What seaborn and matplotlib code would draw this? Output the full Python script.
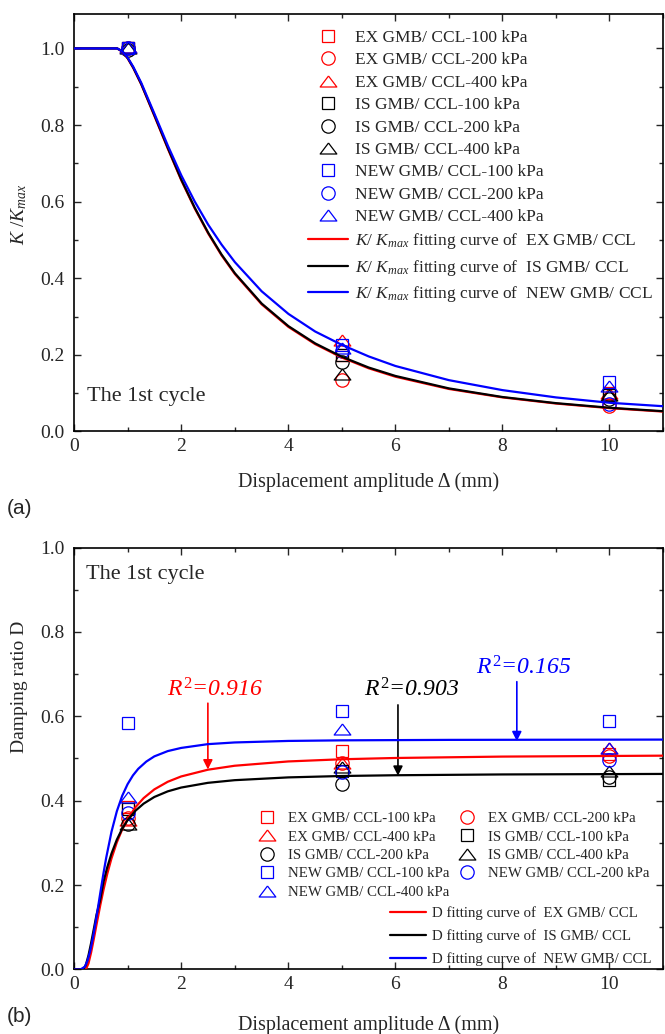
import numpy as np
import pandas as pd
import matplotlib
matplotlib.use("Agg")
import matplotlib.pyplot as plt
import seaborn as sns
from matplotlib.lines import Line2D
from matplotlib.ticker import MultipleLocator, FormatStrFormatter

sns.set_style("ticks")
plt.rcParams["font.family"] = ["Liberation Serif", "DejaVu Serif"]
plt.rcParams["mathtext.fontset"] = "custom"
plt.rcParams["mathtext.rm"] = "Liberation Serif"
plt.rcParams["mathtext.it"] = "Liberation Serif:italic"
plt.rcParams["mathtext.bf"] = "Liberation Serif:bold"

# ---------------- data ----------------
disp = [1, 5, 10]
series_names = ["EX GMB/ CCL-100 kPa", "EX GMB/ CCL-200 kPa", "EX GMB/ CCL-400 kPa",
                "IS GMB/ CCL-100 kPa", "IS GMB/ CCL-200 kPa", "IS GMB/ CCL-400 kPa",
                "NEW GMB/ CCL-100 kPa", "NEW GMB/ CCL-200 kPa", "NEW GMB/ CCL-400 kPa"]

# (a) K/Kmax
k_ex_100 = [1.000, 0.200, 0.100]
k_ex_200 = [1.000, 0.135, 0.067]
k_ex_400 = [1.005, 0.240, 0.100]
k_is_100 = [1.000, 0.200, 0.095]
k_is_200 = [0.995, 0.182, 0.085]
k_is_400 = [1.000, 0.150, 0.095]
k_new_100 = [1.000, 0.226, 0.128]
k_new_200 = [1.000, 0.210, 0.072]
k_new_400 = [1.005, 0.218, 0.120]

k_fit_x = [0, 0.5, 0.8, 0.9, 1.0, 1.1, 1.25, 1.5, 1.75, 2.0, 2.25, 2.5, 2.75, 3.0,
           3.5, 4.0, 4.5, 5.0, 5.5, 6.0, 7.0, 8.0, 9.0, 10.0, 11.0]
k_fit_ex = [1, 1, 1, 0.991, 0.973, 0.949, 0.906, 0.822, 0.737, 0.655, 0.582, 0.517,
            0.460, 0.411, 0.332, 0.273, 0.228, 0.193, 0.165, 0.143, 0.111, 0.089,
            0.073, 0.061, 0.052]
k_fit_is = [1, 1, 1, 0.992, 0.974, 0.950, 0.907, 0.824, 0.739, 0.657, 0.584, 0.519,
            0.462, 0.413, 0.334, 0.275, 0.230, 0.195, 0.167, 0.145, 0.1125, 0.090,
            0.074, 0.062, 0.053]
k_fit_new = [1, 1, 1, 0.992, 0.975, 0.952, 0.910, 0.828, 0.745, 0.668, 0.600, 0.540,
             0.488, 0.442, 0.366, 0.307, 0.261, 0.226, 0.196, 0.171, 0.134, 0.108,
             0.089, 0.075, 0.066]

# (b) damping ratio D
d_ex_100 = [0.385, 0.518, 0.510]
d_ex_200 = [0.360, 0.490, 0.505]
d_ex_400 = [0.355, 0.490, 0.525]
d_is_100 = [0.380, 0.470, 0.450]
d_is_200 = [0.345, 0.439, 0.455]
d_is_400 = [0.345, 0.480, 0.470]
d_new_100 = [0.583, 0.613, 0.588]
d_new_200 = [0.370, 0.467, 0.497]
d_new_400 = [0.409, 0.571, 0.525]

d_fit_ex_x = [0, 0.22, 0.27, 0.32, 0.37, 0.42, 0.49, 0.55, 0.62, 0.7, 0.8, 0.9, 1.0,
              1.15, 1.3, 1.5, 1.75, 2.0, 2.5, 3.0, 4.0, 5.0, 6.0, 8.0, 11.0]
d_fit_ex = [0, 0, 0.0142, 0.0407, 0.0726, 0.1062, 0.1521, 0.1885, 0.2262, 0.2633,
            0.3014, 0.3319, 0.3564, 0.3849, 0.4061, 0.4268, 0.4448, 0.4574, 0.4734,
            0.4828, 0.4930, 0.4982, 0.5012, 0.5045, 0.5067]
d_fit_is_x = [0, 0.17, 0.22, 0.27, 0.32, 0.37, 0.42, 0.49, 0.55, 0.62, 0.7, 0.8, 0.9,
              1.0, 1.15, 1.3, 1.5, 1.75, 2.0, 2.5, 3.0, 4.0, 5.0, 6.0, 8.0, 11.0]
d_fit_is = [0, 0, 0.0104, 0.0333, 0.0632, 0.0961, 0.1294, 0.166, 0.2073, 0.2418,
            0.2747, 0.3077, 0.3334, 0.3536, 0.3765, 0.3930, 0.4088, 0.4221, 0.4311,
            0.4423, 0.4486, 0.4552, 0.4585, 0.4603, 0.4622, 0.4634]
d_fit_new_x = [0, 0.12, 0.2, 0.25, 0.3, 0.35, 0.4, 0.45, 0.5, 0.55, 0.6, 0.7, 0.8,
               0.9, 1.0, 1.1, 1.2, 1.35, 1.5, 1.75, 2.0, 2.5, 3.0, 4.0, 5.0, 7.0, 11.0]
d_fit_new = [0, 0, 0.0063, 0.0201, 0.0427, 0.0731, 0.1093, 0.1487, 0.1888, 0.2277,
             0.2640, 0.3264, 0.3750, 0.4116, 0.4390, 0.4598, 0.4756, 0.4927, 0.5050,
             0.5175, 0.5250, 0.5340, 0.5380, 0.5416, 0.5430, 0.5441, 0.5448]

r2_labels = ["0.916", "0.903", "0.165"]

# ---------------- style ----------------
RED, BLACK, BLUE = "#ff0000", "#000000", "#0000ff"
colors = [RED, RED, RED, BLACK, BLACK, BLACK, BLUE, BLUE, BLUE]
tri = [(0, 0.66), (-1, -0.66), (1, -0.66), (0, 0.66)]
markers = ["s", "o", tri] * 3
msizes = [8.4, 9.6, 12.0] * 3
MEW = 0.9

fig = plt.figure(figsize=(6.65, 10.34), dpi=100)
ax1 = fig.add_axes([0.1119, 0.5827, 0.885, 0.4038])
ax2 = fig.add_axes([0.1113, 0.0624, 0.8857, 0.4081])

k_sets = [k_ex_100, k_ex_200, k_ex_400, k_is_100, k_is_200, k_is_400,
          k_new_100, k_new_200, k_new_400]
d_sets = [d_ex_100, d_ex_200, d_ex_400, d_is_100, d_is_200, d_is_400,
          d_new_100, d_new_200, d_new_400]


def draw_points(ax, sets):
    for vals, c, m, ms in zip(sets, colors, markers, msizes):
        df = pd.DataFrame({"x": disp, "y": vals})
        sns.lineplot(data=df, x="x", y="y", ax=ax, color=c, linestyle="",
                     marker=m, markersize=ms, markerfacecolor="none",
                     markeredgecolor=c, markeredgewidth=MEW, legend=False,
                     errorbar=None, zorder=3)


def draw_curve(ax, xs, ys, c):
    df = pd.DataFrame({"x": xs, "y": ys})
    sns.lineplot(data=df, x="x", y="y", ax=ax, color=c, lw=1.6, legend=False,
                 errorbar=None, zorder=4)


draw_points(ax1, k_sets)
draw_curve(ax1, k_fit_x, k_fit_ex, RED)
draw_curve(ax1, k_fit_x, k_fit_is, BLACK)
draw_curve(ax1, k_fit_x, k_fit_new, BLUE)

draw_points(ax2, d_sets)
draw_curve(ax2, d_fit_ex_x, d_fit_ex, RED)
draw_curve(ax2, d_fit_is_x, d_fit_is, BLACK)
draw_curve(ax2, d_fit_new_x, d_fit_new, BLUE)

for ax in (ax1, ax2):
    ax.set_xlim(0, 11)
    ax.xaxis.set_major_locator(MultipleLocator(2))
    ax.xaxis.set_minor_locator(MultipleLocator(1))
    ax.yaxis.set_major_locator(MultipleLocator(0.2))
    ax.yaxis.set_minor_locator(MultipleLocator(0.1))
    ax.yaxis.set_major_formatter(FormatStrFormatter("%.1f"))
    ax.tick_params(which="both", direction="in", top=True, right=True,
                   labelsize=14, width=1.0)
    ax.tick_params(axis="x", which="both", pad=5)
    ax.tick_params(axis="y", which="both", pad=7)
    ax.tick_params(which="major", length=5)
    ax.tick_params(which="minor", length=3)
    for sp in ax.spines.values():
        sp.set_linewidth(1.2)
        sp.set_color("black")

ax1.set_xlabel("Displacement amplitude \u0394 (mm)", fontsize=14.5, labelpad=12)
ax2.set_xlabel("Displacement amplitude \u0394 (mm)", fontsize=14.5, labelpad=15.5)
ax1.set_ylim(0, 1.09)
ax2.set_ylim(0, 1.0)
ax1.set_ylabel(r"$K$ /$K_{max}$", fontsize=14)
ax2.set_ylabel("Damping ratio D", fontsize=14)
ax1.yaxis.set_label_coords(-0.078, 0.52)
ax2.yaxis.set_label_coords(-0.078, 0.67)

ax1.text(0.23, 0.091, "The 1st cycle", fontsize=16, va="center", ha="left")
ax2.text(0.23, 0.935, "The 1st cycle", fontsize=16, va="center", ha="left")

fig.text(19 / 665, 1 - 508 / 1034, "(a)", fontsize=15, family="Liberation Sans",
         ha="center", va="center")
fig.text(19 / 665, 1 - 1017 / 1034, "(b)", fontsize=15, family="Liberation Sans",
         ha="center", va="center")

# legends
def pt_handle(i):
    return Line2D([], [], ls="", marker=markers[i], ms=msizes[i], mfc="none",
                  mec=colors[i], mew=MEW, label=series_names[i])

h1 = [pt_handle(i) for i in range(9)]
fit_groups = ["EX GMB/ CCL", "IS GMB/ CCL", "NEW GMB/ CCL"]
line_cols = [RED, BLACK, BLUE]
h1 += [Line2D([], [], color=c, lw=1.6,
              label=r"$K$/ $K_{max}$ fitting curve of  " + g)
       for c, g in zip(line_cols, fit_groups)]
ax1.legend(handles=h1, loc="upper left", bbox_to_anchor=(0.397, 0.962),
           frameon=False, fontsize=12.5, handlelength=2.3, handletextpad=0.4,
           labelspacing=0.36, borderpad=0, borderaxespad=0)

order = [0, 2, 4, 6, 8, 1, 3, 5, 7]
h2 = [pt_handle(i) for i in order]
leg_pts = ax2.legend(handles=h2, loc="upper left", bbox_to_anchor=(0.302, 0.374),
                     ncol=2, frameon=False, fontsize=10.7, handlelength=2.0,
                     handletextpad=0.4, labelspacing=0.34, columnspacing=0.2,
                     borderpad=0, borderaxespad=0)
ax2.add_artist(leg_pts)
h3 = [Line2D([], [], color=c, lw=1.6, label="D fitting curve of  " + g)
      for c, g in zip(line_cols, fit_groups)]
ax2.legend(handles=h3, loc="upper left", bbox_to_anchor=(0.5365, 0.150),
           frameon=False, fontsize=10.7, handlelength=2.45, handletextpad=0.4,
           labelspacing=0.62, borderpad=0, borderaxespad=0)

# R^2 annotations
ann = [(r2_labels[0], RED, 2.63, 0.662, 2.50, 0.631, 0.474),
       (r2_labels[1], BLACK, 6.30, 0.662, 6.05, 0.627, 0.459),
       (r2_labels[2], BLUE, 8.40, 0.714, 8.27, 0.682, 0.541)]
for lab, c, tx, ty, ax_x, y0, y1 in ann:
    ax2.text(tx, ty, r"$R^2$=" + lab, color=c, fontsize=17, style="italic",
             ha="center", va="center")
    ax2.annotate("", xy=(ax_x, y1), xytext=(ax_x, y0),
                 arrowprops=dict(arrowstyle="-|>", color=c, lw=1.2,
                                 mutation_scale=14, shrinkA=0, shrinkB=0))

fig.savefig("out.png", dpi=100)
